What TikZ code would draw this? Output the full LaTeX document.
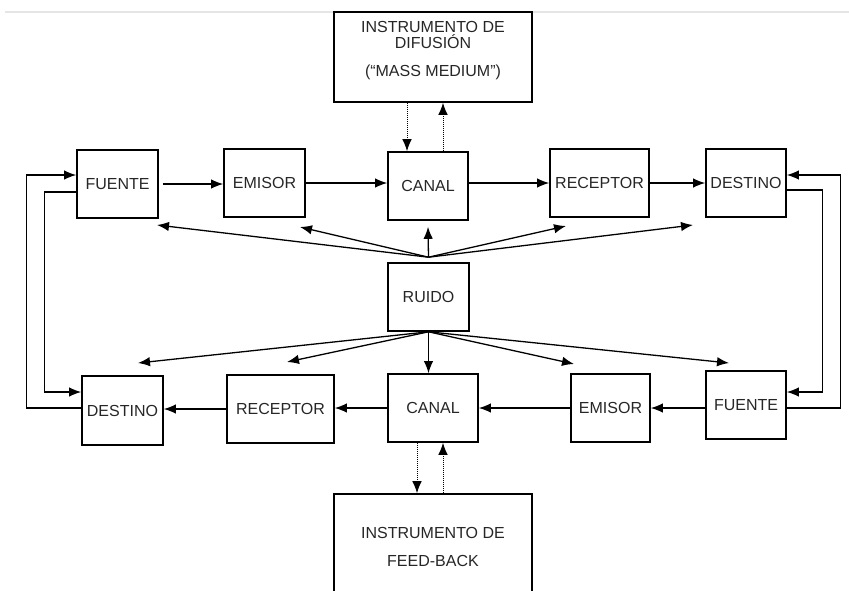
\documentclass[tikz,border=0pt]{standalone}
\usepackage{fontspec}
\setmainfont{Liberation Sans}
\usetikzlibrary{arrows.meta}

\begin{document}
\begin{tikzpicture}[x=1pt, y=-1pt, line width=1.3pt, >={Latex[length=12pt,width=9.5pt]},
        font=\fontsize{16}{16}\selectfont, text=black!85,
        box/.style={rectangle, draw, line width=1.6pt, inner sep=0pt}]
        \useasboundingbox (0,0) rectangle (849,590);
        \draw [black!10, line width=2pt] (5,12) -- (849,12);
        \node(100) at (433,57) [box, minimum width=198, minimum height=90] {};
        \node(100t) at (433,50.5) [align=center] {INSTRUMENTO DE\\DIFUSIÓN\\[12pt](“MASS MEDIUM”)};
        \node(101) at (117.5,184) [box, minimum width=81, minimum height=68] {FUENTE};
        \node(102) at (264.5,183) [box, minimum width=81, minimum height=68] {EMISOR};
        \node(103) at (428,186) [box, minimum width=80, minimum height=68] {CANAL};
        \node(104) at (599.5,183) [box, minimum width=99, minimum height=68] {RECEPTOR};
        \node(105) at (746,183) [box, minimum width=80, minimum height=68] {DESTINO};
        \draw [->, shorten <=4pt] (101.east) -- (101.east -| 102.west);
        \draw [->] (102.east) -- (102.east -| 103.west);
        \draw [->] (103.east |- 104) -- (104.west);
        \draw [->] (104.east) -- (105.west);
        \node(110) at (428.5,297) [box, minimum width=81, minimum height=68] {RUIDO};
        \node(121) at (122.5,410.5) [box, minimum width=81, minimum height=69] {DESTINO};
        \node(122) at (280.5,409) [box, minimum width=107, minimum height=68] {RECEPTOR};
        \node(123) at (433,408) [box, minimum width=90, minimum height=68] {CANAL};
        \node(124) at (610.5,408) [box, minimum width=79, minimum height=68] {EMISOR};
        \node(125) at (746,405) [box, minimum width=80, minimum height=68] {FUENTE};
        \draw [->] (125.west |- 124) -- (124.east);
        \draw [->] (124.west) -- (123.east);
        \draw [->] (123.west) -- (123.west -| 122.east);
        \draw [->] (122.west) -- (122.west -| 121.east);
        \node(130) at (433,594) [box, minimum width=198, minimum height=200] {};
        \node(130t) at (433,546.5) [align=center] {INSTRUMENTO DE\\[12pt]FEED-BACK};
        % ruido
        \coordinate (110a) at ([yshift=5pt]110.north);
        \coordinate (u1) at (157,225);
        \coordinate (u2) at (300,227);
        \coordinate (u4) at (566,226);
        \coordinate (u5) at (693,225);
        \coordinate (d1) at (138,363);
        \coordinate (d2) at (287,362);
        \coordinate (d4) at (574,364);
        \coordinate (d5) at (729,363);
        \draw [->] (110a) -- (u1);
        \draw [->] (110a) -- (u2);
        \draw [->] (110a) -- ([yshift=-6pt]103.south);
        \draw [->] (110a) -- (u4);
        \draw [->] (110a) -- (u5);
        \draw [->] (110.south) -- (d1);
        \draw [->] (110.south) -- (d2);
        \draw [->] (110.south) -- (110.south |- 123.north);
        \draw [->] (110.south) -- (d4);
        \draw [->] (110.south) -- (d5);
        % instrumentos
        \draw [->, densely dotted, line width=1pt] ([xshift=-26pt]100.south) -- ([xshift=-21pt]103.north);
        \draw [->, densely dotted, line width=1pt] ([xshift=15pt]103.north) -- ([xshift=10pt]100.south);
        \draw [->, densely dotted, line width=1pt] ([xshift=-16pt]123.south) -- ([xshift=-16pt]130.north);
        \draw [->, densely dotted, line width=1pt] ([xshift=10pt]130.north) -- ([xshift=10pt]123.south);
        % bucles
        \draw [->] ([yshift=-8pt]101.west) -- ++(-32,0) |- ([yshift=18.5pt]121.west);
        \draw [->] ([yshift=2.5pt]121.west) -- ++(-55,0) |- ([yshift=9pt]101.west);
        \draw [->] ([yshift=-7pt]105.east) -- ++(36,0) |- ([yshift=13pt]125.east);
        \draw [->] ([yshift=-3pt]125.east) -- ++(54,0) |- ([yshift=8pt]105.east);
    \end{tikzpicture}
\end{document}
